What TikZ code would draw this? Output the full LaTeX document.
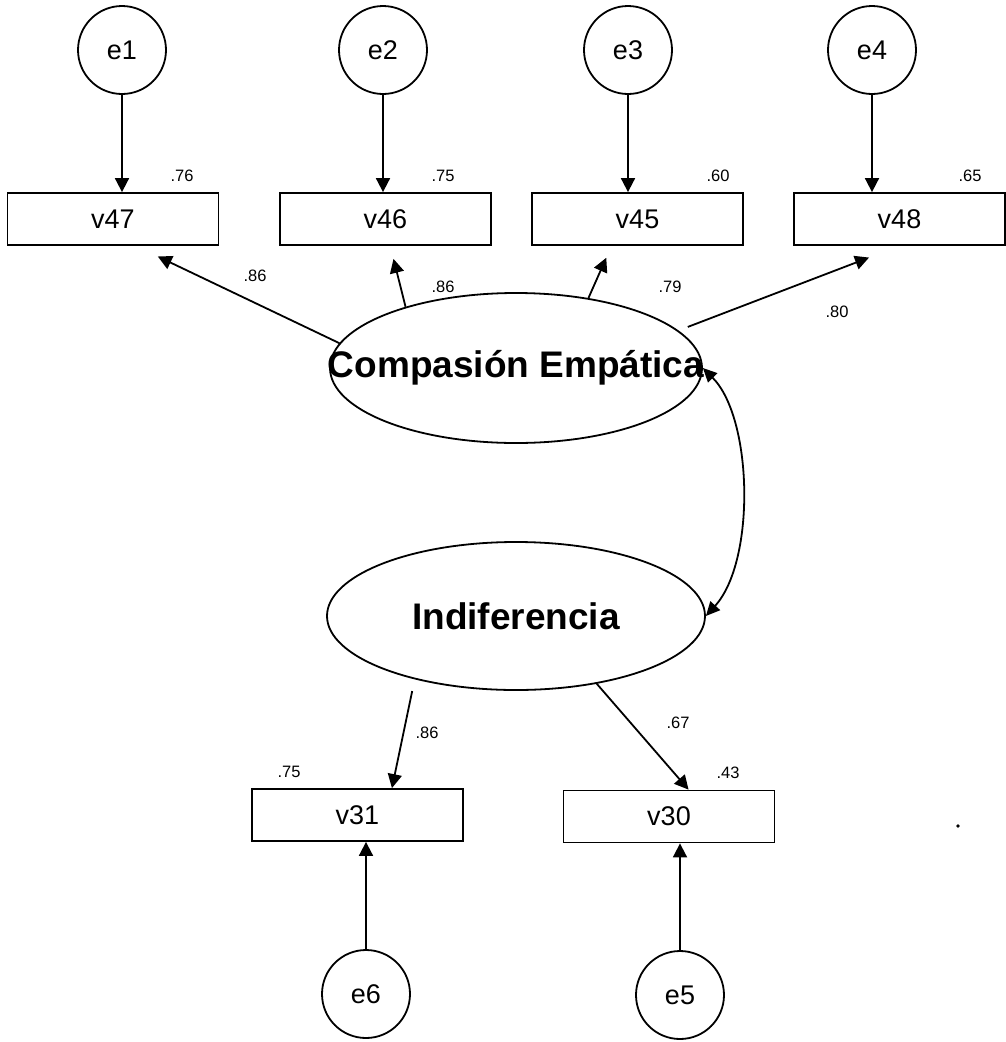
\documentclass[tikz,border=0pt]{standalone}
\usepackage{fontspec}
\setmainfont{Liberation Sans}
\usetikzlibrary{arrows.meta,shapes.geometric}
\begin{document}
\begin{tikzpicture}[x=1pt,y=1pt,
  every path/.style={line width=1.8pt},
  arr/.style={-{Triangle[length=14pt,width=14pt]}},
  dblarr/.style={{Triangle[length=14pt,width=13pt]}-{Triangle[length=14pt,width=13pt]}},
  err/.style={circle,draw,minimum size=88pt,inner sep=0pt,font=\fontsize{27}{32}\selectfont},
  obs/.style={rectangle,draw,minimum width=211pt,minimum height=52pt,inner sep=0pt,font=\fontsize{27}{32}\selectfont},
  lat/.style={ellipse,draw,inner sep=0pt,font=\fontsize{37}{44}\selectfont\bfseries},
  coef/.style={inner sep=0pt,font=\fontsize{16.5}{19}\selectfont}]
\useasboundingbox (0,0) rectangle (1006,-1042);

% error terms, top row
\node[err] (e1) at (122,-50) {e1};
\node[err] (e2) at (383,-50) {e2};
\node[err] (e3) at (628,-50) {e3};
\node[err] (e4) at (872,-50) {e4};

% observed indicators, top row
\node[obs] (v47) at (113,-219) {v47};
\node[obs] (v46) at (385.5,-219) {v46};
\node[obs] (v45) at (637.5,-219) {v45};
\node[obs] (v48) at (899.5,-219) {v48};

% latent factors
\node[lat,minimum width=372pt,minimum height=150pt] (CE) at (516,-368) {\makebox[0pt][c]{Compasión Empática}};
\node[lat,minimum width=378pt,minimum height=148pt] (IN) at (516,-616) {\raisebox{-4pt}{\makebox[0pt][c]{Indiferencia}}};

% observed indicators, bottom row
\node[obs] (v31) at (357.5,-815) {v31};
\node[obs] (v30) at (669,-816.5) {v30};

% error terms, bottom row
\node[err] (e6) at (366,-994) {e6};
\node[err] (e5) at (680,-995) {e5};

% error paths
\draw[arr] (e1.south) -- (e1.south |- v47.north);
\draw[arr] (e2.south) -- (e2.south |- v46.north);
\draw[arr] (e3.south) -- (e3.south |- v45.north);
\draw[arr] (e4.south) -- (e4.south |- v48.north);
\draw[arr] (e6.north) -- (e6.north |- v31.south);
\draw[arr] (e5.north) -- (e5.north |- v30.south);

% factor loadings
\draw[arr,shorten >=24.6pt] (CE.172) -- (v47.-50);
\draw[arr,shorten >=13.4pt] (CE.151) -- (v46.-80.6);
\draw[arr,shorten >=13pt] (CE.44) -- (v45.-134.4);
\draw[arr,shorten <=10pt,shorten >=32.6pt] (CE.13) -- (v48.south);
\draw[arr,shorten <=12pt] (IN.-148.3) -- (v31.38.7);
\draw[arr] (IN.-40.3) -- (v30.54.8);

% factor correlation
\draw[dblarr] (CE.east) .. controls +(50,-50) and +(50,55) .. (IN.east);

% coefficients
\node[coef] (r47) at (182,-176) {.76};
\node[coef] (r46) at (443,-176) {.75};
\node[coef] (r45) at (718,-176) {.60};
\node[coef] (r48) at (970,-176) {.65};
\node[coef] (l47) at (255,-276) {.86};
\node[coef] (l46) at (443,-287) {.86};
\node[coef] (l45) at (670,-287) {.79};
\node[coef] (l48) at (837,-312) {.80};
\node[coef] (l31) at (427,-733) {.86};
\node[coef] (l30) at (678,-723) {.67};
\node[coef] (r31) at (289,-772) {.75};
\node[coef] (r30) at (728,-773) {.43};

% small dot
\fill (958,-826) circle (1.8pt);
\end{tikzpicture}
\end{document}
